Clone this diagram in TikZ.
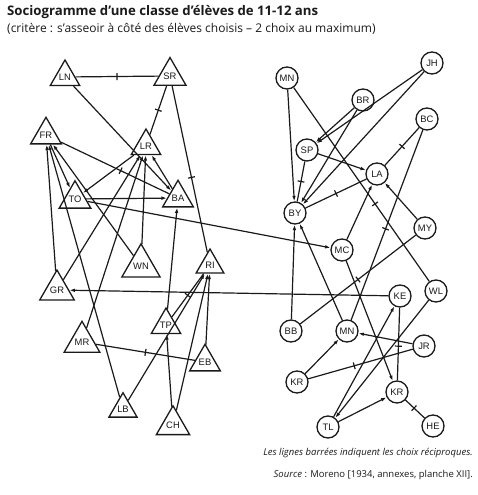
\documentclass[tikz,border=0pt]{standalone}
\usepackage{fontspec}
\setmainfont{Open Sans}
\newfontfamily\lblfont{Liberation Sans}
\usetikzlibrary{shapes.geometric,arrows.meta,decorations.markings}
\definecolor{ink}{HTML}{1A1A1A}
\begin{document}
\begin{tikzpicture}[x=1pt,y=-1pt,
  tri/.style={draw=ink, regular polygon, regular polygon sides=3, minimum size=32pt, inner sep=0pt, line width=1.3pt, fill=white, text=ink, font=\lblfont\fontsize{9.4}{10}\selectfont},
  circ/.style={draw=ink, circle, minimum size=22pt, inner sep=0pt, line width=1.3pt, fill=white, text=ink, font=\lblfont\fontsize{9.4}{10}\selectfont},
  link/.style={draw=ink, line width=1.2pt},
  arr/.style={link, -{Latex[length=5.5pt,width=3.6pt]}},
  recip/.style={link, postaction={decorate}, decoration={markings, mark=at position #1 with {\draw[ink, line width=1.2pt] (0,-3.5pt) -- (0,3.5pt);}}},
  recip/.default=0.5,
  txt/.style={inner sep=0pt, text=ink}
]
\useasboundingbox (0,0) rectangle (477,495);
% titles
\node[txt, anchor=west] (title) at (7,12) {\fontsize{13.2}{15}\selectfont\bfseries Sociogramme d’une classe d’élèves de 11-12 ans};
\node[txt, anchor=west] (sub) at (7,29) {\fontsize{12}{14}\selectfont (critère : s’asseoir à côté des élèves choisis – 2 choix au maximum)};
\node[txt, anchor=east] (cap1) at (473,453) {\fontsize{9.5}{11}\selectfont\itshape Les lignes barrées indiquent les choix réciproques.};
\node[txt, anchor=east] (cap2) at (473,475) {\fontsize{9.5}{11}\selectfont\textit{Source} : Moreno [1934, annexes, planche XII].};
% triangles
\node[tri] (LN) at (65,77) {LN};
\node[tri] (SR) at (170,76) {SR};
\node[tri] (FR) at (46,135) {FR};
\node[tri] (LR) at (146,146) {LR};
\node[tri] (TO) at (75,199) {TO};
\node[tri] (BA) at (178,198) {BA};
\node[tri] (WN) at (141,266) {WN};
\node[tri] (RI) at (210,265) {RI};
\node[tri] (GR) at (57,290) {GR};
\node[tri] (TP) at (166,325) {TP};
\node[tri] (MR) at (82,342) {MR};
\node[tri] (EB) at (205,362) {EB};
\node[tri] (LB) at (123,409) {LB};
\node[tri] (CH) at (173,425) {CH};
% circles
\node[circ] (MNa) at (287,78) {MN};
\node[circ] (JH) at (432,63) {JH};
\node[circ] (BR) at (363,100) {BR};
\node[circ] (BC) at (427,119) {BC};
\node[circ] (SP) at (307,150) {SP};
\node[circ] (LA) at (377,174) {LA};
\node[circ] (BY) at (295,213) {BY};
\node[circ] (MY) at (425,228) {MY};
\node[circ] (MC) at (342,250) {MC};
\node[circ] (KE) at (400,296) {KE};
\node[circ] (WL) at (436,291) {WL};
\node[circ] (BB) at (291,331) {BB};
\node[circ] (MNb) at (347,331) {MN};
\node[circ] (JR) at (424,346) {JR};
\node[circ] (KRa) at (297,382) {KR};
\node[circ] (KRb) at (397,392) {KR};
\node[circ] (TL) at (328,427) {TL};
\node[circ] (HE) at (433,426) {HE};
% left group
\draw[recip] (LN) -- (SR);
\draw[arr] (LN) -- (BA);
\draw[recip] (SR) -- (LR);
\draw[recip=0.55] (SR) -- (RI);
\draw[arr] (FR) -- (TO);
\draw[recip=0.55] (FR) -- (BA);
\draw[arr] (TO) -- (BA);
\draw[arr] (TO) -- (MC);
\draw[arr] (BA) -- (LR);
\draw[arr] (LR) -- (TO);
\draw[arr] (WN) -- (FR);
\draw[arr] (WN) -- (LR);
\draw[arr] (GR) -- (FR);
\draw[arr] (GR) -- (LR);
\draw[arr] (LB) -- (FR);
\draw[arr] (LB) -- (RI);
\draw[arr] (MR) -- (LR);
\draw[recip] (MR) -- (EB);
\draw[arr] (TP) -- (BA);
\draw[recip] (TP) -- (RI);
\draw[arr] (CH) -- (TP);
\draw[arr] (CH) -- (RI);
\draw[arr] (EB) -- (RI);
\draw[arr] (KE) -- (GR);
% right group
\draw[arr] (MNa) -- (BY);
\draw[recip=0.6] (MNa) -- (WL);
\draw[arr] (JH) -- (SP);
\draw[arr] (JH) -- (BY);
\draw[arr] (BR) -- (SP);
\draw[arr] (BR) -- (BY);
\draw[recip] (BC) -- (LA);
\draw[recip=0.52] (BC) -- (MNb);
\draw[recip] (SP) -- (BY);
\draw[arr] (SP) -- (LA);
\draw[recip] (LA) -- (BY);
\draw[arr] (MY) -- (LA);
\draw[recip] (MY) -- (BB);
\draw[arr] (MC) -- (LA);
\draw[arr] (MC) -- (KRb);
\draw[arr] (BB) -- (BY);
\draw[arr] (MNb) -- (BY);
\draw[recip=0.53] (KE) -- (KRb);
\draw[arr] (TL) -- (KE);
\draw[arr] (TL) -- (KRb);
\draw[arr] (WL) -- (TL);
\draw[arr] (JR) -- (MNb);
\draw[recip=0.56] (JR) -- (KRa);
\draw[arr] (KRa) -- (MNb);
\draw[recip=0.55] (HE) -- (KRb);
\end{tikzpicture}
\end{document}
